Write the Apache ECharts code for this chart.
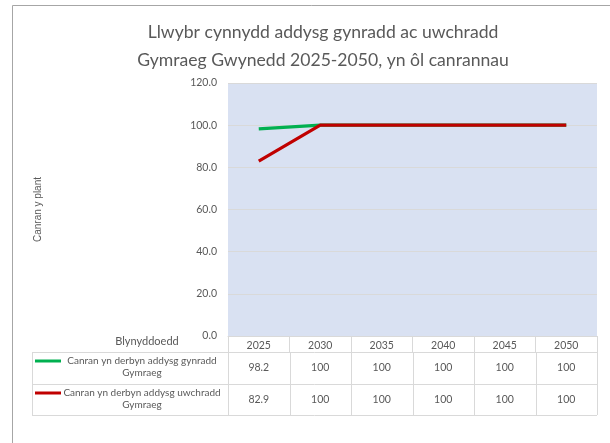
<!DOCTYPE html>
<html>
<head>
<meta charset="utf-8">
<script src="https://cdn.jsdelivr.net/npm/echarts@6/dist/echarts.min.js"></script>
<style>
  html, body { margin: 0; padding: 0; background: #fff; }
  #chart { width: 610px; height: 443px; }
</style>
</head>
<body>
<div id="chart"></div>
<script>
// data
const years = ['2025', '2030', '2035', '2040', '2045', '2050']
const primaryWelsh = [98.2, 100, 100, 100, 100, 100]
const secondaryWelsh = [82.9, 100, 100, 100, 100, 100]
const seriesNames = ['Canran yn derbyn addysg gynradd Gymraeg', 'Canran yn derbyn addysg uwchradd Gymraeg']
const seriesColors = ['#00B050', '#C00000']
const yMin = 0
const yMax = 120
const yStep = 20

const textColor = '#595959'
const lineColor = '#D9D9D9'
const font = 'Lato'

const chart = echarts.init(document.getElementById('chart'))

chart.setOption({
  animation: false,
  textStyle: { fontFamily: font },
  title: {
    text: 'Llwybr cynnydd addysg gynradd ac uwchradd\nGymraeg Gwynedd 2025-2050, yn ôl canrannau',
    left: 318,
    top: 13,
    textAlign: 'center',
    textStyle: { fontSize: 17.6, fontWeight: 'normal', color: textColor, lineHeight: 28, fontFamily: font }
  },
  grid: {
    left: 228, right: 13, top: 83, bottom: 107,
    show: true, backgroundColor: '#D9E1F2', borderWidth: 0
  },
  xAxis: {
    type: 'category',
    data: years,
    boundaryGap: true,
    axisLine: { show: true, lineStyle: { color: lineColor } },
    axisTick: { show: true, length: 16, lineStyle: { color: lineColor } },
    axisLabel: { color: textColor, fontSize: 10.5, margin: 4 }
  },
  yAxis: {
    type: 'value',
    min: yMin, max: yMax, interval: yStep,
    name: 'Canran y plant',
    nameLocation: 'middle',
    nameGap: 185,
    nameTextStyle: { color: textColor, fontSize: 10, fontFamily: 'Liberation Sans' },
    axisLine: { show: false },
    axisTick: { show: false },
    axisLabel: { color: textColor, fontSize: 10.5, margin: 11, formatter: v => v.toFixed(1) },
    splitLine: { lineStyle: { color: lineColor } }
  },
  series: [
    {
      type: 'line', name: seriesNames[0], data: primaryWelsh,
      symbol: 'none', lineStyle: { width: 3.2, color: seriesColors[0] }, itemStyle: { color: seriesColors[0] }
    },
    {
      type: 'line', name: seriesNames[1], data: secondaryWelsh,
      symbol: 'none', lineStyle: { width: 3.2, color: seriesColors[1] }, itemStyle: { color: seriesColors[1] }
    }
  ]
})

// data table under the axis, columns taken from the category axis
const tableLeft = 32
const rowTops = [352, 384, 415]
const rows = [primaryWelsh, secondaryWelsh]
const centers = years.map(y => chart.convertToPixel({ xAxisIndex: 0 }, y))
const step = centers[1] - centers[0]
const bounds = [centers[0] - step / 2].concat(centers.map(c => c + step / 2))
const cellFont = '10.5px ' + font
const keyFont = '10px ' + font
const graphic = []

// outer frame
graphic.push({
  type: 'rect', shape: { x: 12.5, y: 5.5, width: 700, height: 600 },
  style: { fill: 'none', stroke: '#A6A6A6', lineWidth: 1 }, silent: true
})

graphic.push({
  type: 'text', x: 147, y: 341,
  style: { text: 'Blynyddoedd', fill: textColor, font: '11px ' + font, align: 'center', verticalAlign: 'middle' }
})

rowTops.forEach(y => {
  graphic.push({
    type: 'line', shape: { x1: tableLeft, y1: y + 0.5, x2: bounds[bounds.length - 1], y2: y + 0.5 },
    style: { stroke: lineColor, lineWidth: 1 }
  })
})
;[tableLeft].concat(bounds).forEach(x => {
  graphic.push({
    type: 'line', shape: { x1: Math.round(x) + 0.5, y1: rowTops[0], x2: Math.round(x) + 0.5, y2: rowTops[2] },
    style: { stroke: lineColor, lineWidth: 1 }
  })
})

rows.forEach((vals, r) => {
  const top = rowTops[r]
  const mid = (rowTops[r] + rowTops[r + 1]) / 2
  const name = seriesNames[r]
  const cut = name.lastIndexOf(' ')
  graphic.push({
    type: 'line', shape: { x1: 35, y1: top + 9, x2: 61, y2: top + 9 },
    style: { stroke: seriesColors[r], lineWidth: 3 }
  })
  graphic.push({
    type: 'text', x: 142, y: top + 9,
    style: { text: name.slice(0, cut), fill: textColor, font: keyFont, align: 'center', verticalAlign: 'middle' }
  })
  graphic.push({
    type: 'text', x: 142, y: top + 21,
    style: { text: name.slice(cut + 1), fill: textColor, font: keyFont, align: 'center', verticalAlign: 'middle' }
  })
  vals.forEach((v, i) => {
    graphic.push({
      type: 'text', x: centers[i], y: mid,
      style: { text: String(v), fill: textColor, font: cellFont, align: 'center', verticalAlign: 'middle' }
    })
  })
})

chart.setOption({ graphic: graphic })
</script>
</body>
</html>
